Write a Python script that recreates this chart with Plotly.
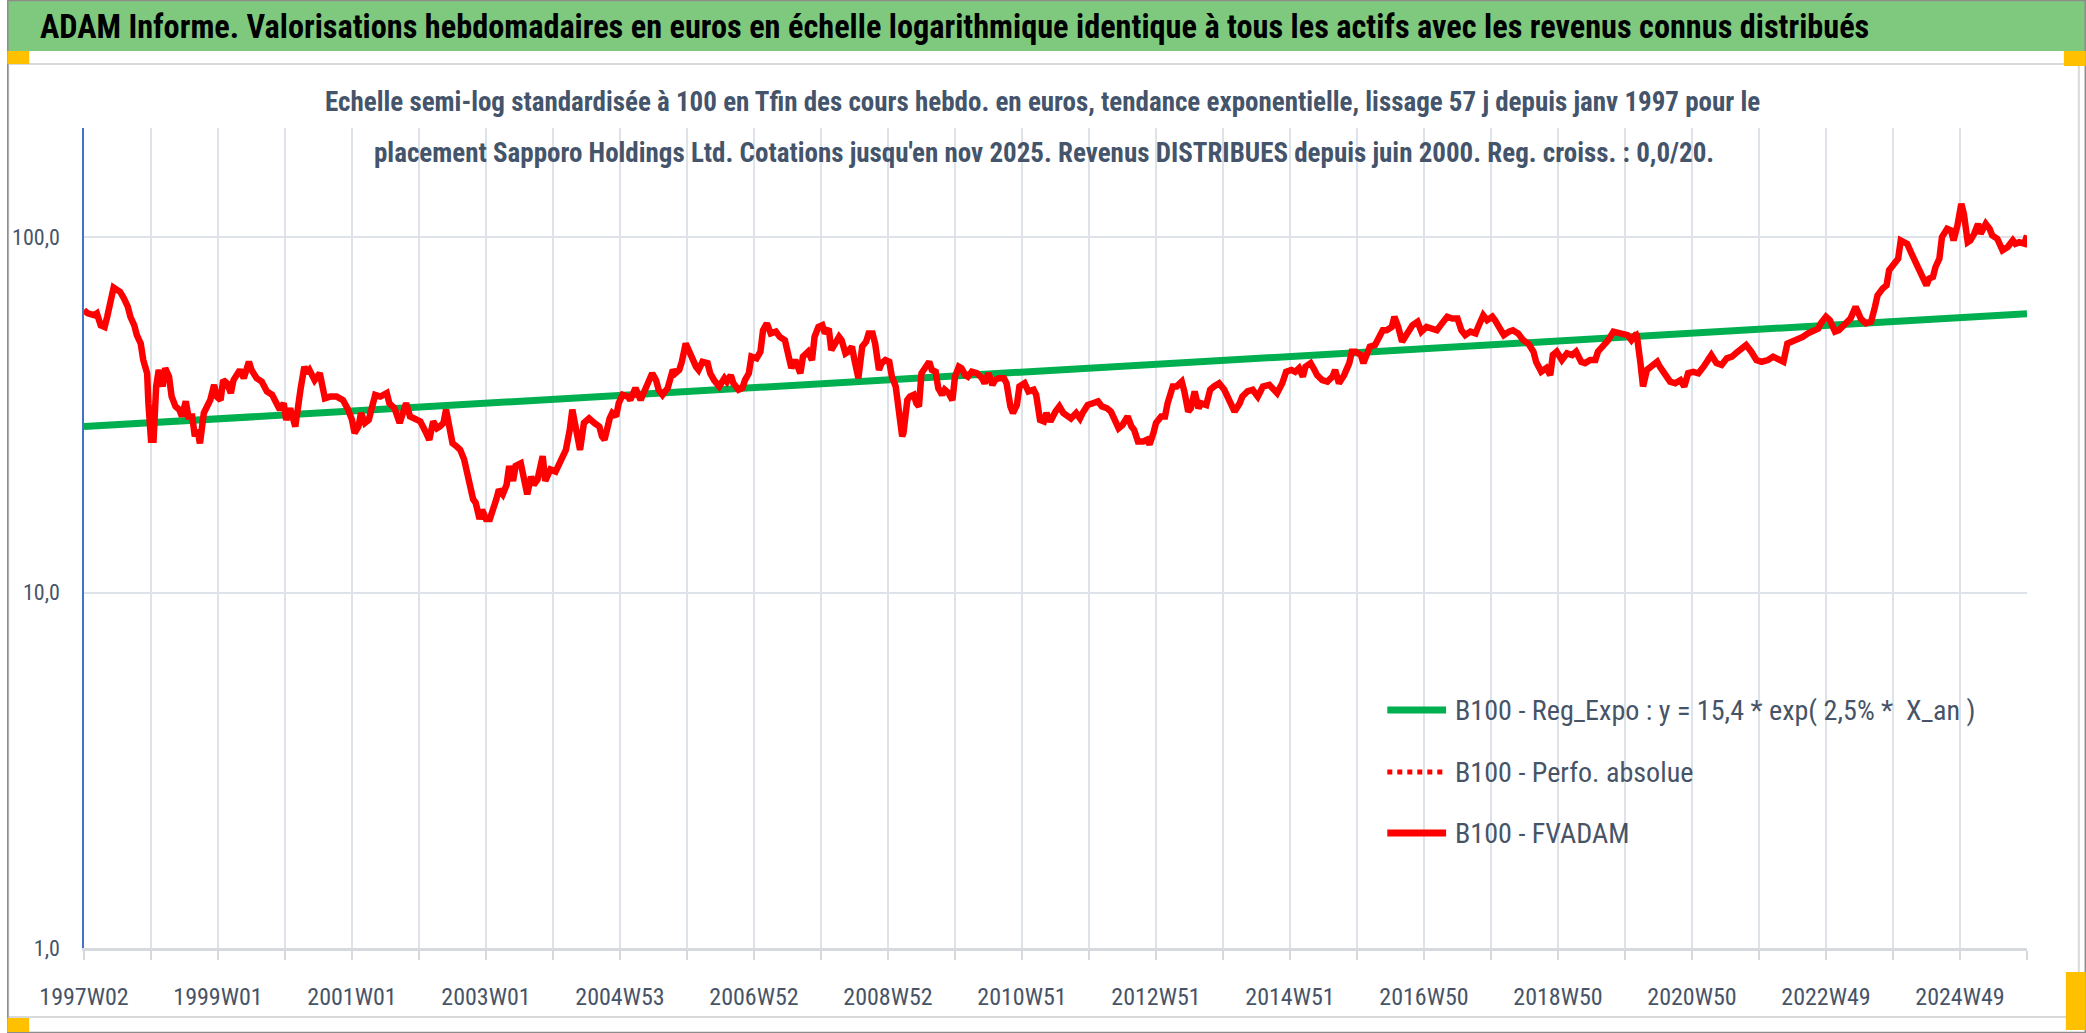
import plotly.graph_objects as go

# ---------------- data ----------------
TICK_LABELS = ["1997W02", "1999W01", "2001W01", "2003W01", "2004W53", "2006W52",
               "2008W52", "2010W51", "2012W51", "2014W51", "2016W50", "2018W50",
               "2020W50", "2022W49", "2024W49"]
N_WEEKS = 1508          # last weekly index (nov 2025)
WEEKS_PER_YEAR = 52

WEEK_IDX = [
    0, 3, 8, 10, 13, 16, 18, 21, 23, 26, 28, 31, 34, 36, 39, 41, 44, 46, 49, 50, 52, 54, 56, 58, 61, 63,
    66, 68, 71, 74, 76, 79, 81, 84, 86, 88, 90, 93, 96, 98, 101, 103, 106, 108, 111, 114, 116, 119, 121,
    124, 128, 130, 134, 138, 142, 146, 150, 152, 155, 157, 160, 164, 168, 171, 173, 175, 179, 183, 187,
    191, 196, 201, 205, 208, 210, 213, 215, 218, 221, 223, 226, 230, 232, 235, 237, 241, 245, 248, 250,
    253, 257, 261, 265, 268, 271, 274, 276, 279, 281, 284, 286, 289, 292, 295, 297,
    300, 302, 304, 307, 309, 312, 315, 317, 320, 322, 325, 328, 330, 333, 335, 339, 342, 344, 347, 349,
    352, 356, 358, 362, 366, 369, 371, 374, 377, 379, 382, 385, 388, 392, 396, 400, 402, 404, 408, 410,
    413, 415, 418, 422, 424, 428, 432, 436, 438, 441, 444, 446, 449, 453, 457, 459, 462, 464, 467, 469,
    472, 475, 477, 480, 484, 486, 489, 493, 497, 499, 502, 504, 508, 511, 513, 516, 518, 522, 525, 527,
    530, 533, 537, 540, 544, 547, 549, 552, 556, 558, 562, 565, 567, 570, 573, 575, 578, 580, 583, 586,
    588, 591, 593, 596, 598,
    601, 604, 607, 609, 612, 614, 617, 619, 622, 625, 627, 630, 632, 635, 636, 639, 641, 644, 646, 648,
    650, 653, 656, 658, 661, 663, 666, 668, 671, 674, 676, 679, 681, 684, 686, 689, 693, 697, 699, 702,
    705, 707, 710, 714, 716, 719, 721, 724, 726, 730, 733, 737, 739, 742, 745, 747, 750, 754, 757, 760,
    763, 766, 770, 773, 775, 779, 783, 787, 790, 794, 797, 800, 803, 806, 810, 813, 815, 818, 822, 825,
    827, 830, 832, 836, 839, 841, 845, 848, 852, 854, 857, 859, 862, 865, 867, 871, 874, 877, 881, 885,
    889, 893, 897, 899,
    903, 907, 911, 915, 920, 924, 926, 930, 933, 937, 940, 943, 946, 948, 952, 955, 957, 961, 965, 969,
    971, 974, 978, 982, 984, 987, 991, 993, 996, 998, 1002, 1005, 1008, 1011, 1015, 1017, 1020, 1023,
    1027, 1031, 1035, 1038, 1042, 1046, 1050, 1054, 1058, 1062, 1066, 1069, 1072, 1076, 1080, 1082,
    1086, 1089, 1093, 1095, 1098, 1102, 1106, 1109, 1113, 1117, 1121, 1125, 1127, 1131, 1135, 1138,
    1140, 1143, 1147, 1151, 1155, 1158, 1162, 1165, 1169, 1173, 1175, 1179, 1183, 1187, 1191, 1195,
    1198, 1201,
    1203, 1205, 1208, 1210, 1213, 1217, 1221, 1223, 1227, 1231, 1235, 1239, 1242, 1245, 1249, 1253,
    1257, 1261, 1263, 1267, 1271, 1275, 1279, 1282, 1286, 1290, 1294, 1298, 1302, 1307, 1311, 1315,
    1319, 1322, 1326, 1330, 1334, 1338, 1342, 1346, 1348, 1352, 1355, 1359, 1362, 1366, 1371, 1375,
    1379, 1383, 1387, 1390, 1392, 1396, 1399, 1401, 1405, 1408, 1410, 1413, 1415, 1419, 1423, 1427,
    1430, 1432, 1435, 1437, 1440, 1442, 1446, 1449, 1451, 1454, 1457, 1459, 1462, 1464, 1467, 1470,
    1472, 1476, 1479, 1481, 1485, 1489, 1493, 1497, 1499, 1502, 1506, 1508,
]

FVADAM = [
    62.3, 61.0, 60.3, 61.0, 56.5, 55.9, 59.7, 66.4, 72.1, 70.9, 70.2, 67.2, 63.7, 59.7, 56.5, 53.0, 50.2,
    45.1, 41.4, 34.1, 26.9, 26.9, 38.0, 42.3, 38.0, 42.8, 40.5, 35.6, 33.4, 32.7, 31.3, 34.5, 31.3, 31.3,
    27.5, 28.7, 26.3, 32.0, 33.4, 34.8, 38.4, 35.6, 34.8, 39.6, 38.8, 36.4, 39.6, 41.4, 42.3, 40.1, 44.6,
    42.3, 40.1, 39.2, 36.8, 36.0, 33.4, 32.7, 34.1, 30.6, 33.0, 29.3, 37.2, 43.2, 41.4, 42.3, 39.6, 41.4,
    35.2, 35.6, 35.6, 34.8, 32.7, 30.6, 28.1, 29.3, 32.0, 30.0, 30.6, 33.4, 36.0, 35.6, 36.0, 36.4, 34.1,
    33.0, 30.0, 32.7, 34.1, 31.3, 30.9, 30.3, 28.4, 26.9, 30.3, 29.0, 29.3, 30.0, 32.7, 29.3, 26.3, 25.8,
    25.2, 23.7, 21.9,
    20.3, 18.3, 17.9, 16.1, 17.1, 16.1, 16.1, 16.8, 18.3, 19.5, 18.9, 20.1, 22.7, 20.6, 22.7, 23.1, 20.8,
    18.9, 21.2, 20.1, 20.8, 24.2, 20.6, 22.2, 21.9, 23.1, 23.9, 25.2, 28.7, 32.7, 28.7, 25.2, 30.0, 30.9,
    30.0, 29.3, 27.5, 26.9, 30.9, 32.0, 31.3, 34.1, 36.0, 35.6, 34.8, 37.6, 34.8, 38.0, 39.6, 41.4, 39.6,
    37.2, 36.0, 37.6, 42.3, 41.4, 42.3, 44.6, 50.2, 48.1, 45.1, 43.2, 42.3, 44.6, 44.2, 41.4, 39.6, 38.0,
    40.1, 39.2, 40.9, 38.8, 37.2, 37.6, 39.6, 41.4, 46.1, 45.6, 47.6, 54.7, 57.2, 53.6, 54.2, 52.4, 51.3,
    46.1, 42.8, 45.1, 41.4, 46.1, 47.6, 45.1, 52.4, 55.9, 56.5, 53.6, 55.3, 48.1, 50.2, 52.4, 51.3, 47.1,
    47.6, 49.2, 45.1,
    40.1, 49.2, 50.8, 53.6, 53.6, 50.2, 42.3, 44.2, 45.1, 44.6, 40.5, 38.0, 32.7, 27.5, 28.1, 34.8, 35.6,
    36.0, 34.1, 33.4, 41.4, 43.2, 44.6, 42.3, 41.8, 37.6, 36.0, 37.2, 36.4, 34.8, 40.5, 43.2, 42.8, 40.9,
    40.5, 41.8, 41.4, 40.1, 38.8, 41.4, 38.4, 39.6, 40.1, 40.1, 38.8, 33.4, 32.0, 33.7, 38.0, 38.8, 36.8,
    37.2, 36.0, 30.6, 30.3, 32.0, 30.3, 32.3, 33.4, 32.0, 31.3, 30.9, 32.0, 30.9, 32.0, 33.7, 34.1, 34.5,
    33.4, 33.0, 32.3, 30.6, 29.0, 29.6, 31.3, 29.3, 28.7, 26.6, 26.6, 26.9, 26.1, 28.1, 30.0, 31.3, 31.3,
    34.1, 38.0, 38.0, 39.2, 36.8, 32.3, 33.0, 36.8, 33.0, 34.1, 33.7, 37.2, 38.0, 38.8, 37.2, 34.8, 32.3,
    34.1, 35.6,
    36.8, 37.2, 35.6, 38.0, 38.4, 36.8, 36.4, 38.8, 41.8, 42.3, 41.8, 42.8, 40.5, 43.2, 44.2, 42.3, 40.9,
    39.6, 39.2, 40.5, 42.3, 38.8, 40.9, 44.2, 47.6, 47.6, 46.6, 44.2, 47.1, 49.2, 49.7, 52.4, 54.7, 54.7,
    55.9, 59.7, 55.9, 50.8, 53.6, 56.5, 57.8, 54.2, 55.9, 55.3, 54.7, 57.2, 59.7, 59.0, 59.0, 54.7, 53.0,
    54.2, 53.6, 55.9, 60.3, 58.4, 59.7, 58.4, 55.9, 53.0, 54.2, 54.7, 53.6, 51.3, 50.2, 47.6, 44.6, 41.8,
    42.8, 40.9, 46.6, 47.6, 45.1, 47.1, 46.6, 47.6, 44.6, 44.2, 45.1, 45.1, 47.6, 49.2, 51.3, 54.2, 53.6,
    53.0, 53.0, 51.3,
    53.0, 53.6, 44.2, 38.0, 42.3, 43.2, 44.6, 43.2, 40.9, 39.2, 38.8, 39.6, 38.0, 41.4, 41.8, 41.4, 43.2,
    46.1, 46.6, 44.2, 43.7, 45.6, 46.1, 47.1, 48.6, 49.7, 47.6, 45.1, 44.6, 45.1, 46.1, 45.1, 44.6, 50.2,
    50.8, 51.9, 52.4, 53.6, 54.7, 55.3, 57.2, 59.7, 58.4, 54.2, 54.7, 56.5, 59.0, 63.7, 59.0, 57.2, 57.8,
    63.7, 68.6, 71.7, 73.2, 80.7, 85.1, 87.0, 97.9, 96.8, 95.8, 88.9, 83.3, 77.3, 73.2, 76.4, 77.3, 82.4,
    87.0, 100.0, 105.5, 104.4, 97.9, 107.8, 124.0, 116.3, 96.8, 97.9, 102.2, 109.0, 102.2, 109.0, 105.5,
    101.1, 98.9, 91.8, 93.8, 97.9, 95.8, 96.8, 95.8, 101.1,
]

# exponential regression line (straight on the log axis), read at both ends
TREND_WEEKS = [0, 1508]
TREND_VALUES = [29.3, 60.9]

Y_TICKS = [1, 10, 100]
Y_TICK_TEXT = ["1,0", "10,0", "100,0"]

TITLE = ("ADAM Informe. Valorisations hebdomadaires en euros en échelle logarithmique "
         "identique à tous les actifs avec les revenus connus distribués")
SUB1 = ("Echelle semi-log standardisée à 100 en Tfin des cours hebdo. en euros, tendance "
        "exponentielle, lissage 57 j depuis janv 1997 pour le")
SUB2 = ("placement Sapporo Holdings Ltd. Cotations jusqu'en nov 2025. Revenus DISTRIBUES "
        "depuis juin 2000. Reg. croiss. : 0,0/20.")
LEG_NAMES = ["B100 - Reg_Expo : y = 15,4 * exp( 2,5% *  X_an )",
             "B100 - Perfo. absolue",
             "B100 - FVADAM"]

# ---------------- layout geometry / styles ----------------
W, H = 2086, 1033
L, R, T, B = 77, 2027, 128, 948
FONT = "Liberation Sans Narrow, Arial Narrow, Roboto Condensed, Liberation Sans, sans-serif"
TXT = "#475467"
GRID = "#DEE2E9"
RED = "#FF0000"
GREEN = "#00B050"
ORANGE = "#FFC000"


def px(x):
    return (x - L) / (R - L)


def py(y):
    return (B - y) / (B - T)


fig = go.Figure()

fig.add_trace(go.Scatter(x=TREND_WEEKS, y=TREND_VALUES, mode="lines", name=LEG_NAMES[0],
                         line=dict(color=GREEN, width=7), showlegend=False, hoverinfo="skip"))
fig.add_trace(go.Scatter(x=WEEK_IDX, y=FVADAM, mode="lines", name=LEG_NAMES[1],
                         line=dict(color=RED, width=4, dash="dot"), showlegend=False,
                         hoverinfo="skip"))
fig.add_trace(go.Scatter(x=WEEK_IDX, y=FVADAM, mode="lines", name=LEG_NAMES[2],
                         line=dict(color=RED, width=6.5), showlegend=False, hoverinfo="skip"))

tickvals = list(range(0, N_WEEKS + 1, WEEKS_PER_YEAR))
ticktext = []
for i in range(len(tickvals)):
    ticktext.append(TICK_LABELS[i // 2] if i % 2 == 0 and i // 2 < len(TICK_LABELS) else "")

fig.update_xaxes(range=[0, N_WEEKS], tickmode="array", tickvals=tickvals, ticktext=ticktext,
                 showgrid=True, gridcolor=GRID, gridwidth=2, zeroline=False,
                 showline=True, linecolor="#D6D9DE", linewidth=2.5,
                 ticks="outside", ticklen=9, tickwidth=2, tickcolor="#D6D9DE",
                 ticklabelstandoff=16,
                 tickfont=dict(family=FONT, size=24, color=TXT))
fig.update_yaxes(type="log", range=[0, 2.307], tickmode="array", tickvals=Y_TICKS,
                 ticktext=Y_TICK_TEXT, showgrid=True, gridcolor=GRID, gridwidth=2,
                 zeroline=False, showline=True, linecolor="#4472C4", linewidth=1.5,
                 ticks="", ticklabelstandoff=18,
                 tickfont=dict(family=FONT, size=22, color=TXT))

shapes = [
    # green title band
    dict(type="rect", xref="paper", yref="paper", x0=px(0), x1=px(W), y0=py(51), y1=py(0),
         fillcolor="#7FC97F", line=dict(width=0), layer="below"),
    # chart frame
    dict(type="rect", xref="paper", yref="paper", x0=px(1), x1=px(2079), y0=py(1017), y1=py(64),
         line=dict(color="#D9D9D9", width=2), fillcolor="rgba(0,0,0,0)", layer="below"),
    # outer border
    dict(type="rect", xref="paper", yref="paper", x0=px(0.5), x1=px(W - 0.5), y0=py(H - 0.5),
         y1=py(0.5), line=dict(color="#8C8C8C", width=1.5), fillcolor="rgba(0,0,0,0)"),
    # orange handles
    dict(type="rect", xref="paper", yref="paper", x0=px(0), x1=px(22), y0=py(64), y1=py(51),
         fillcolor=ORANGE, line=dict(width=0)),
    dict(type="rect", xref="paper", yref="paper", x0=px(2064), x1=px(W), y0=py(66), y1=py(51),
         fillcolor=ORANGE, line=dict(width=0)),
    dict(type="rect", xref="paper", yref="paper", x0=px(0), x1=px(22), y0=py(1032), y1=py(1018),
         fillcolor=ORANGE, line=dict(width=0)),
    dict(type="rect", xref="paper", yref="paper", x0=px(2066), x1=px(W), y0=py(1030), y1=py(972),
         fillcolor=ORANGE, line=dict(width=0)),
]

# manual legend (sample lines + labels)
leg_y = [710, 772, 833]
leg_styles = [dict(color=GREEN, width=7), dict(color=RED, width=5, dash="dot"),
              dict(color=RED, width=7)]
for yy, st in zip(leg_y, leg_styles):
    shapes.append(dict(type="line", xref="paper", yref="paper", x0=px(1385), x1=px(1444),
                       y0=py(yy), y1=py(yy), line=st))

annotations = [
    dict(text="<b>" + TITLE + "</b>", xref="paper", yref="paper", x=px(31), y=py(27),
         xanchor="left", yanchor="middle", showarrow=False,
         font=dict(family=FONT, size=32.3, color="#000000")),
    dict(text="<b>" + SUB1 + "</b>", xref="paper", yref="paper", x=px(1039), y=py(102),
         xanchor="center", yanchor="middle", showarrow=False,
         font=dict(family=FONT, size=27, color="#44546A")),
    dict(text="<b>" + SUB2 + "</b>", xref="paper", yref="paper", x=px(1040), y=py(153),
         xanchor="center", yanchor="middle", showarrow=False,
         font=dict(family=FONT, size=27, color="#44546A")),
]
for yy, name in zip(leg_y, LEG_NAMES):
    annotations.append(dict(text=name, xref="paper", yref="paper", x=px(1451), y=py(yy),
                            xanchor="left", yanchor="middle", showarrow=False,
                            font=dict(family=FONT, size=28.1, color=TXT)))

fig.update_layout(width=W, height=H, autosize=False,
                  margin=dict(l=L, r=W - R, t=T, b=H - B, pad=0),
                  paper_bgcolor="white", plot_bgcolor="white",
                  showlegend=False, shapes=shapes, annotations=annotations,
                  hovermode=False)

fig.write_html("out.html", config={"displayModeBar": False},
               post_script="document.body.style.margin='0';document.body.style.overflow='hidden';")
